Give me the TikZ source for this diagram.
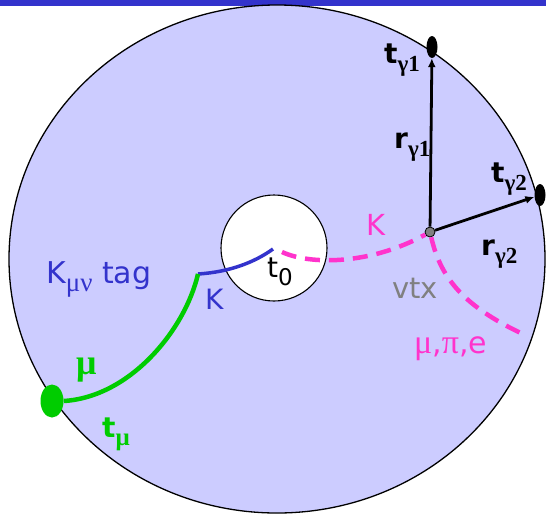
\documentclass[tikz,border=0pt]{standalone}
\usepackage{fontspec}
\setmainfont{DejaVu Sans}
\newfontfamily\grk{Liberation Serif}
\usetikzlibrary{arrows.meta,positioning,shapes.geometric}

\definecolor{barblue}{RGB}{51,51,204}
\definecolor{lav}{RGB}{204,204,255}
\definecolor{kpink}{RGB}{255,51,204}
\definecolor{mugreen}{RGB}{0,204,0}
\newcommand{\lowsub}[2][21]{\raisebox{-8pt}{\fontsize{#1}{#1}\selectfont #2}}

\begin{document}
\begin{tikzpicture}[x=1pt,y=-1pt,
  lbl/.style={inner sep=0pt,anchor=base west,font=\fontsize{28}{30}\selectfont},
  hit/.style={ellipse,fill,inner sep=0pt,minimum width=11pt,minimum height=22pt},
  trk/.style={line width=4.5pt,dash pattern=on 15pt off 9pt,kpink},
  arr/.style={-{Latex[length=9pt,width=8pt]},line width=2.8pt}
]
\useasboundingbox (0,0) rectangle (546,515);
\fill[barblue] (0,0) rectangle (546,6);
\draw[fill=lav,line width=1.3pt] (277,259) ellipse [x radius=268,y radius=254];
\draw[fill=white,line width=1.1pt] (274,248) circle [radius=53];

% track ends and hits
\coordinate (kink) at (198,274);
\coordinate (t0) at (273,249);
\coordinate (kend) at (282,252);
\coordinate (mpe) at (525,335);
\node[circle,draw,fill=gray,inner sep=0pt,minimum size=10pt,line width=0.8pt] (vtx) at (430,232) {};
\node[hit] (tg1) at (432,47) {};
\node[hit] (tg2) at (540,195) {};
\node[hit,mugreen,minimum width=23pt,minimum height=33pt] (tmu) at (52,401) {};

\draw[barblue,line width=3.5pt] (kink) .. controls (230,272) and (255,262) .. (t0);
\draw[mugreen,line width=4.5pt] (kink) .. controls (185,330) and (130,397) .. (tmu.east);
\draw[trk] (kend) .. controls (310,265) and (370,265) .. (vtx);
\draw[trk] (vtx) .. controls (440,275) and (460,305) .. (mpe);
\draw[arr] (vtx) -- (tg1);
\draw[arr] (vtx) -- (tg2);

% labels
\node[lbl] (tg1lbl) at (384,63) {\bfseries t\lowsub[23]{\grk γ1}};
\node[lbl] (rg1lbl) at (394,148) {\bfseries r\lowsub[23]{\grk γ1}};
\node[lbl] (tg2lbl) at (491,182) {\bfseries t\lowsub[23]{\grk γ2}};
\node[lbl] (rg2lbl) at (481,255) {\bfseries r\lowsub[23]{\grk γ2}};
\node[lbl,kpink,font=\fontsize{29}{30}\selectfont] (kpinklbl) at (366,235) {K};
\node[lbl,gray,font=\fontsize{29}{30}\selectfont] (vtxlbl) at (392,298) {vtx};
\node[lbl,kpink,font=\fontsize{30}{30}\selectfont] (mpelbl) at (414,353) {{\grk\fontsize{34}{34}\selectfont μ},{\grk\fontsize{34}{34}\selectfont π},e};
\node[lbl,barblue,font=\fontsize{30}{30}\selectfont] (ktag) at (46,283) {K\lowsub[27]{\grk μν} tag};
\node[lbl,barblue] (kbluelbl) at (205,309) {K};
\node[lbl] (t0lbl) at (267,277) {t\lowsub[23]{0}};
\node[lbl,mugreen,font=\fontsize{36}{36}\selectfont] (mulbl) at (76,374) {\grk\bfseries μ};
\node[lbl,mugreen] (tmulbl) at (102,437) {\bfseries t\lowsub[25]{\grk\bfseries μ}};
\end{tikzpicture}
\end{document}
